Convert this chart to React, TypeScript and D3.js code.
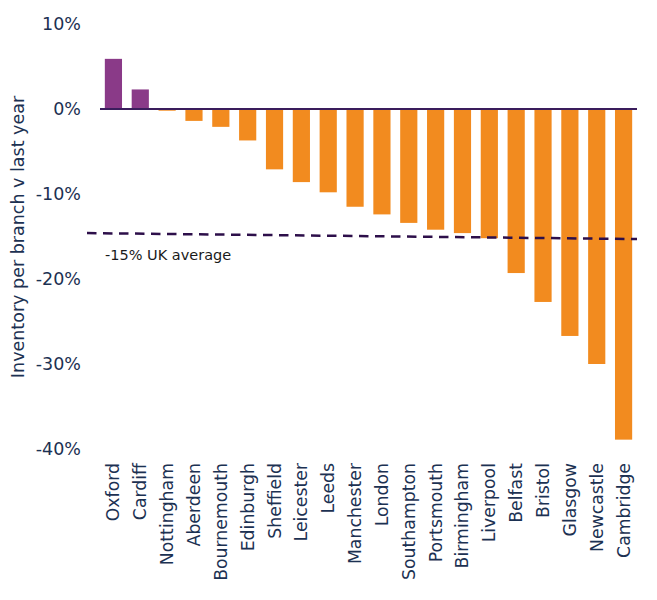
import React from "react";
import * as d3 from "d3";

const categories = ["Oxford","Cardiff","Nottingham","Aberdeen","Bournemouth","Edinburgh","Sheffield","Leicester","Leeds","Manchester","London","Southampton","Portsmouth","Birmingham","Liverpool","Belfast","Bristol","Glasgow","Newcastle","Cambridge"];
const values = [5.9,2.3,-0.2,-1.4,-2.1,-3.7,-7.1,-8.6,-9.8,-11.5,-12.4,-13.4,-14.2,-14.6,-15.2,-19.3,-22.7,-26.7,-30.0,-38.9];
const yTicks = [10,0,-10,-20,-30,-40];
const avgStartValue = -14.6;
const avgEndValue = -15.3;
const avgLabel = "-15% UK average";
const yTitle = "Inventory per branch v last year";

const W = 657, H = 600;
const FONT = "'DejaVu Sans', Verdana, sans-serif";
const NAVY = "#1c3152";
const PURPLE = "#8a3a88";
const ORANGE = "#f28b1f";

export default function App() {
  const x = d3.scaleBand<string>().domain(categories).range([100, 637]).paddingInner(0.36).paddingOuter(0.18);
  const y = d3.scaleLinear().domain([-40, 10]).range([449, 24]);
  const line = d3.line<[number, number]>().x(d => d[0]).y(d => y(d[1]));
  const avgPts: [number, number][] = [[87, avgStartValue], [637, avgEndValue]];
  return (
    <svg width={W} height={H} style={{ position: "absolute", left: 0, top: 0, background: "#fff" }} fontFamily={FONT}>
      {categories.map((c, i) => {
        const v = values[i];
        return (
          <rect key={c} x={x(c)} width={x.bandwidth()} y={y(Math.max(0, v))} height={Math.abs(y(v) - y(0))} fill={v >= 0 ? PURPLE : ORANGE} />
        );
      })}
      <line x1={100} x2={637} y1={y(0)} y2={y(0)} stroke="#3a1d5c" strokeWidth={2} />
      <path d={line(avgPts) || ""} fill="none" stroke="#2d0f4a" strokeWidth={2.5} strokeDasharray="9.5,6.5" />
      <text x={105} y={y(avgStartValue) + 27} fontSize={14.5} fill="#1a1a1a">{avgLabel}</text>
      {yTicks.map(t => (
        <text key={t} x={81} y={y(t)} textAnchor="end" dominantBaseline="central" fontSize={17.5} fill={NAVY}>{String(t)}%</text>
      ))}
      <text transform={`translate(18,237) rotate(-90)`} textAnchor="middle" dominantBaseline="central" fontSize={17.5} fill={NAVY}>{yTitle}</text>
      {categories.map(c => (
        <text key={c} transform={`translate(${(x(c) || 0) + x.bandwidth() / 2},463) rotate(-90)`} textAnchor="end" dominantBaseline="central" fontSize={17.3} fill={NAVY}>{c}</text>
      ))}
    </svg>
  );
}
